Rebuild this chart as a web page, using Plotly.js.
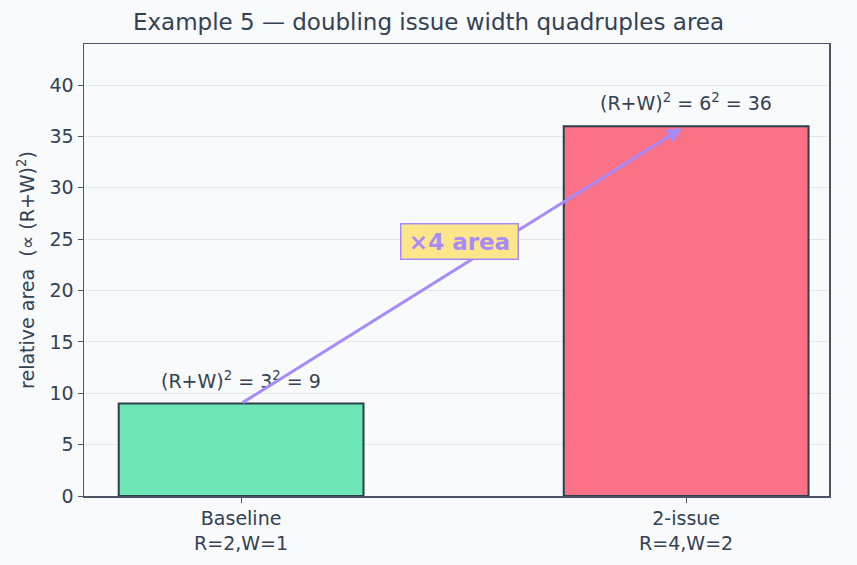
<!DOCTYPE html>
<html>
<head>
<meta charset="utf-8">
<script src="https://cdn.plot.ly/plotly-3.0.1.min.js"></script>
<style>
html,body{margin:0;padding:0;background:#f8fafc;}
#chart{width:857px;height:565px;}
</style>
</head>
<body>
<div id="chart"></div>
<script>
// ---- data ----
const categories = ["Baseline<br>R=2,W=1", "2-issue<br>R=4,W=2"];
const areaValues = [9, 36];
const valueLabels = ["(R+W)<sup>2</sup> = 3<sup>2</sup> = 9", "(R+W)<sup>2</sup> = 6<sup>2</sup> = 36"];
const barColors = ["#6ee7b7", "#fb7185"];
const ratioLabel = "×4 area";
const yTicks = [0, 5, 10, 15, 20, 25, 30, 35, 40];

const textColor = "#334155";
const font = "DejaVu Sans, sans-serif";

const trace = {
  type: "bar",
  x: [0, 1],
  y: areaValues,
  width: 0.55,
  marker: {color: barColors, line: {color: "#2d3e4e", width: 2}},
  hoverinfo: "skip"
};

const annotations = [];
// value labels
areaValues.forEach((v, i) => {
  annotations.push({
    x: i, y: v, xref: "x", yref: "y",
    text: valueLabels[i], showarrow: false,
    yanchor: "bottom", yshift: 10,
    font: {family: font, size: 19, color: textColor}
  });
});
// arrow from baseline top to 2-issue top
annotations.push({
  x: 0.99, y: 35.8, ax: 0, ay: areaValues[0],
  xref: "x", yref: "y", axref: "x", ayref: "y",
  text: "", showarrow: true,
  arrowhead: 2, arrowsize: 1, arrowwidth: 3, arrowcolor: "#a78bfa",
  standoff: 0, startstandoff: 0
});
// ratio label
annotations.push({
  x: 0.49, y: 24.8, xref: "x", yref: "y",
  text: "<b>" + ratioLabel + "</b>", showarrow: false,
  width: 110, height: 28,
  font: {family: font, size: 23, color: "#a78bfa"},
  bgcolor: "#fde68a", bordercolor: "#a78bfa", borderwidth: 1.5, borderpad: 3
});

const layout = {
  width: 857, height: 565,
  paper_bgcolor: "#f8fafc",
  plot_bgcolor: "#f8fafc",
  margin: {l: 84, r: 28, t: 44, b: 69},
  font: {family: font, color: textColor, size: 19},
  title: {
    text: "Example 5 — doubling issue width quadruples area",
    font: {family: font, size: 23, color: textColor},
    x: 0.5, xanchor: "center", y: 1 - 22/565, yanchor: "middle"
  },
  xaxis: {
    range: [-0.353, 1.321],
    tickmode: "array", tickvals: [0, 1], ticktext: categories,
    ticks: "outside", ticklen: 5, tickcolor: "#4b5563", tickwidth: 1,
    showline: true, linecolor: "#4b5563", linewidth: 1.5, mirror: true,
    showgrid: false, zeroline: false,
    tickfont: {family: font, size: 19, color: textColor}
  },
  yaxis: {
    range: [0, 44],
    tickmode: "array", tickvals: yTicks,
    ticks: "outside", ticklen: 5, tickcolor: "#4b5563", tickwidth: 1,
    showline: true, linecolor: "#4b5563", linewidth: 1.5, mirror: true,
    showgrid: true, gridcolor: "#e2e8f0", gridwidth: 1,
    zeroline: false,
    tickfont: {family: font, size: 19, color: textColor},
    title: {text: "relative area\u00a0\u00a0(∝ (R+W)<sup>2</sup>)", font: {family: font, size: 19, color: textColor}, standoff: 10}
  },
  annotations: annotations,
  showlegend: false,
  bargap: 0
};

Plotly.newPlot("chart", [trace], layout, {displayModeBar: false, staticPlot: true});
</script>
</body>
</html>
